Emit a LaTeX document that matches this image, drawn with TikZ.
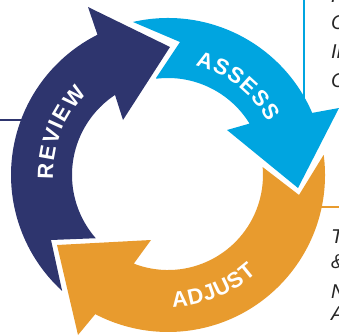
\documentclass[tikz,border=0pt]{standalone}
\usepackage{fontspec}
\setmainfont{Liberation Sans}
\usetikzlibrary{decorations.text,calc}
\definecolor{navyc}{RGB}{46,53,110}
\definecolor{bluec}{RGB}{0,165,224}
\definecolor{orangec}{RGB}{232,155,46}
\tikzset{
  side/.style={text=black!85,font=\fontsize{20}{22}\selectfont\itshape,anchor=base west,inner sep=0pt},
  lead/.style={line width=1.6pt},
  curvedlab/.style={decorate,decoration={text along path,text align={fit to path},text={|\fontsize{22}{23}\selectfont\bfseries\color{white}|#1}}}
}
\begin{document}
\begin{tikzpicture}[x=1pt,y=1pt]
\useasboundingbox (0,0) rectangle (339,335);
\clip (0,0) rectangle (339,335);
\coordinate (c) at (168,160);
% leaders
\coordinate (la) at (0,215);
\coordinate (lb) at (24,215);
\coordinate (ba) at (304,335);
\coordinate (bb) at (304,232);
\coordinate (oa) at (339,128);
\coordinate (ob) at (319,128);
\draw[lead,navyc] (la) -- (lb);
\draw[lead,bluec] (ba) -- (bb);
\draw[lead,orangec] (oa) -- (ob);
% navy arrow
\fill[navyc] (88,328) -- (170,288) -- (123,215) -- ($(c)+(123.5:96)$)
  arc[start angle=123.5,end angle=221.2,radius=96] -- (51,95) --
  ($(c)+(227.6:157)$) arc[start angle=227.6,end angle=116.7,radius=157] -- cycle;
% orange arrow
\fill[orangec] (57,90) -- (151,95) -- ($(c)+(248.9:95)$)
  arc[start angle=248.9,end angle=364.8,radius=95] -- (299,140) --
  ($(c)+(7.4:157)$) arc[start angle=7.4,end angle=-117.6,radius=157] -- (78,0) -- cycle;
% blue arrow
\fill[bluec] (133,313) -- (180,293) -- (156,257) -- ($(c)+(97:97)$)
  arc[start angle=97,end angle=31.7,radius=96] -- (227,205) -- (298,147) -- (339,227) --
  ($(c)+(23.3:157)$) arc[start angle=23.3,end angle=102.9,radius=157] -- cycle;
% labels on the arrows
\path[curvedlab=REVIEW] ($(c)+(182:115)$) arc[start angle=182,end angle=135,radius=115];
\path[curvedlab=ASSESS] ($(c)+(76:113)$) arc[start angle=76,end angle=28,radius=113];
\path[curvedlab=ADJUST] ($(c)+(272:132)$) arc[start angle=272,end angle=312,radius=132];
% clipped side texts
\node[side] (t1) at (331,332) {H};
\node[side] (t2) at (331,305) {C};
\node[side] (t3) at (331,276) {In};
\node[side] (t4) at (331,247) {C};
\node[side] (t5) at (331,92) {T};
\node[side] (t6) at (331,67) {\&};
\node[side] (t7) at (331,37) {N};
\node[side] (t8) at (331,15) {A};
\end{tikzpicture}
\end{document}
